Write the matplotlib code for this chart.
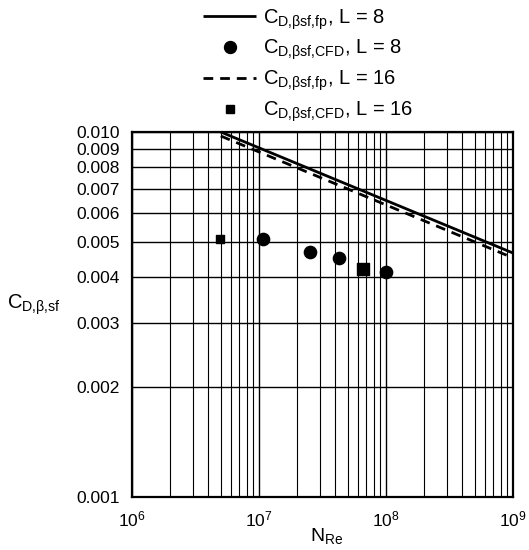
import matplotlib
matplotlib.use("Agg")
import matplotlib.pyplot as plt
from matplotlib.ticker import FixedLocator, LogLocator, NullFormatter, LogFormatterSciNotation, FixedFormatter

plt.rcParams['font.family'] = ['Liberation Sans', 'DejaVu Sans']
plt.rcParams['mathtext.fontset'] = 'custom'
plt.rcParams['mathtext.rm'] = 'Liberation Sans'
plt.rcParams['mathtext.it'] = 'Liberation Sans:italic'
plt.rcParams['mathtext.bf'] = 'Liberation Sans:bold'

# ---- data ----
re_fp_L8 = [5.0e6, 1.0e9]
cd_fp_L8 = [0.0100, 0.00466]
re_fp_L16 = [5.0e6, 1.0e9]
cd_fp_L16 = [0.00975, 0.00452]

re_cfd_L8 = [1.07e7, 2.5e7, 4.3e7, 1.0e8]
cd_cfd_L8 = [0.00509, 0.00469, 0.00452, 0.00413]

re_cfd_L16 = [4.9e6, 6.6e7]
cd_cfd_L16 = [0.00509, 0.00421]

y_ticks = [0.001, 0.002, 0.003, 0.004, 0.005, 0.006, 0.007, 0.008, 0.009, 0.010]
y_tick_labels = ['0.001', '0.002', '0.003', '0.004', '0.005',
                 '0.006', '0.007', '0.008', '0.009', '0.010']

labels = [r'$\mathrm{C_{D{,}βsf{,}fp}}$, L = 8',
          r'$\mathrm{C_{D{,}βsf{,}CFD}}$, L = 8',
          r'$\mathrm{C_{D{,}βsf{,}fp}}$, L = 16',
          r'$\mathrm{C_{D{,}βsf{,}CFD}}$, L = 16']

W, H = 529, 550
fig = plt.figure(figsize=(W / 100, H / 100), dpi=100)
left, right, top, bottom = 132, 513, 132, 497
ax = fig.add_axes([left / W, 1 - bottom / H, (right - left) / W, (bottom - top) / H])

ax.set_xscale('log')
ax.set_yscale('log')
ax.set_xlim(1e6, 1e9)
ax.set_ylim(0.001, 0.010)

l1, = ax.plot(re_fp_L8, cd_fp_L8, color='black', lw=2.0, solid_capstyle='butt')
p1 = ax.scatter(re_cfd_L8, cd_cfd_L8, s=78, marker='o', color='black', zorder=5)
l2, = ax.plot(re_fp_L16, cd_fp_L16, color='black', lw=2.0, ls=(0, (3.5, 2.5)))
p2 = ax.scatter(re_cfd_L16, cd_cfd_L16, s=[34, 72], marker='s', color='black', zorder=5)

ax.yaxis.set_major_locator(FixedLocator(y_ticks))
ax.yaxis.set_major_formatter(FixedFormatter(y_tick_labels))
ax.yaxis.set_minor_locator(FixedLocator([]))
ax.yaxis.set_minor_formatter(NullFormatter())
ax.xaxis.set_major_locator(LogLocator(base=10, numticks=10))
ax.xaxis.set_major_formatter(LogFormatterSciNotation())
ax.xaxis.set_minor_locator(LogLocator(base=10, subs=range(2, 10), numticks=20))
ax.xaxis.set_minor_formatter(NullFormatter())

ax.grid(True, which='major', axis='both', color='black', lw=1.0)
ax.grid(True, which='minor', axis='x', color='black', lw=0.8)
ax.tick_params(axis='both', which='both', length=0, labelsize=12.5, colors='black')
ax.tick_params(axis='y', pad=9)
ax.tick_params(axis='x', pad=9)
for sp in ax.spines.values():
    sp.set_linewidth(1.6)
    sp.set_color('black')

fig.text(7 / W, 1 - 309 / H, r'$\mathrm{C_{D{,}β{,}sf}}$', fontsize=14.5, ha='left', va='baseline')
fig.text(310 / W, 1 - 541 / H, r'$\mathrm{N_{Re}}$', fontsize=14, ha='left', va='baseline')

leg_p1 = plt.Line2D([], [], ls='none', marker='o', color='black', markersize=8.6)
leg_p2 = plt.Line2D([], [], ls='none', marker='s', color='black', markersize=5.2)
fig.legend([l1, leg_p1, l2, leg_p2], labels,
           loc='upper left', bbox_to_anchor=(199 / W, 1 - 3 / H),
           frameon=False, fontsize=14.5, handlelength=2.65, handletextpad=0.32,
           labelspacing=0.32, borderpad=0.2, borderaxespad=0)

fig.savefig('out.png', dpi=100)
